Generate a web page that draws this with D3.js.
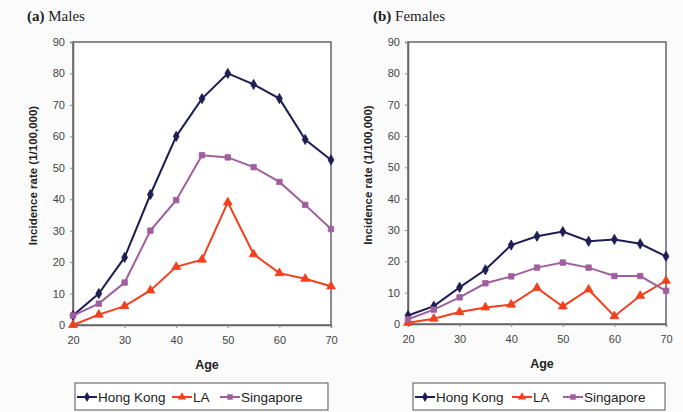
<!DOCTYPE html>
<html>
<head>
<meta charset="utf-8">
<script src="https://cdn.jsdelivr.net/npm/d3@7"></script>
<style>
  html, body { margin: 0; padding: 0; background: #fbfbfb; }
  svg { display: block; }
</style>
</head>
<body>
<svg id="chart" width="683" height="412"></svg>
<script>
// ---- Data ----
const ages = [20, 25, 30, 35, 40, 45, 50, 55, 60, 65, 70];
const xTicks = [20, 30, 40, 50, 60, 70];
const yTicks = [0, 10, 20, 30, 40, 50, 60, 70, 80, 90];
const seriesNames = ["Hong Kong", "LA", "Singapore"];

const malesHongKong = [3, 10, 21.5, 41.5, 60, 72, 80, 76.5, 72, 59, 52.5];
const malesLA       = [0, 3.3, 6, 11, 18.5, 20.8, 39, 22.5, 16.5, 14.7, 12.3];
const malesSingapore= [3, 6.8, 13.5, 30, 39.7, 54, 53.3, 50.2, 45.5, 38.2, 30.5];

const femalesHongKong = [2.7, 5.7, 11.7, 17.3, 25.2, 28, 29.5, 26.4, 27, 25.6, 21.6];
const femalesLA       = [0.4, 1.7, 3.8, 5.3, 6.2, 11.5, 5.6, 11, 2.5, 9, 13.8];
const femalesSingapore= [1.5, 4.6, 8.5, 13, 15.2, 18, 19.6, 18, 15.3, 15.3, 10.6];

const panelTitles = [["(a)", " Males"], ["(b)", " Females"]];
const yAxisTitle = "Incidence rate (1/100,000)";
const xAxisTitle = "Age";

// ---- Style ----
const colors = { "Hong Kong": "#1e1d55", "LA": "#f2401e", "Singapore": "#9f5f9e" };
const markers = { "Hong Kong": d3.symbolDiamond, "LA": d3.symbolTriangle, "Singapore": d3.symbolSquare };

const svg = d3.select("#chart");

const panels = [
  { title: panelTitles[0], x0: 73, x1: 331, y0: 42, y1: 325, titleX: 27,
    data: [malesHongKong, malesLA, malesSingapore], legend: [75, 328], offs: [2, 97, 145] },
  { title: panelTitles[1], x0: 408, x1: 666, y0: 42, y1: 324, titleX: 373,
    data: [femalesHongKong, femalesLA, femalesSingapore], legend: [413, 665], offs: [2, 99, 150] }
];

panels.forEach(p => {
  const g = svg.append("g");
  const x = d3.scaleLinear().domain([20, 70]).range([p.x0, p.x1]);
  const y = d3.scaleLinear().domain([0, 90]).range([p.y1, p.y0]);

  // title
  const t = g.append("text").attr("x", p.titleX).attr("y", 21)
    .style("font-family", "Liberation Serif, Times New Roman, serif")
    .style("font-size", "15px").attr("fill", "#222");
  t.append("tspan").style("font-weight", "bold").text(p.title[0]);
  t.append("tspan").text(p.title[1]);

  // plot box
  g.append("rect").attr("x", p.x0).attr("y", p.y0)
    .attr("width", p.x1 - p.x0).attr("height", p.y1 - p.y0)
    .attr("fill", "#fff").attr("stroke", "#666").attr("stroke-width", 1.5);

  // axes
  const yAxis = d3.axisLeft(y).tickValues(yTicks).tickSize(3).tickPadding(5);
  const ya = g.append("g").attr("transform", `translate(${p.x0},0)`).call(yAxis);
  const xAxis = d3.axisBottom(x).tickValues(xTicks).tickSize(3).tickPadding(8);
  const xa = g.append("g").attr("transform", `translate(0,${p.y1})`).call(xAxis);
  [ya, xa].forEach(a => {
    a.select(".domain").attr("stroke", "#666").attr("stroke-width", 1.5);
    a.selectAll(".tick line").attr("stroke", "#888");
    a.selectAll(".tick text").attr("fill", "#444")
      .style("font-family", "Liberation Sans, Arial, sans-serif").style("font-size", "11px");
  });

  // axis titles
  g.append("text")
    .attr("transform", `translate(${p.x0 - 36},${(p.y0 + p.y1) / 2 - 8}) rotate(-90)`)
    .attr("text-anchor", "middle")
    .style("font-family", "Liberation Sans, Arial, sans-serif")
    .style("font-size", "11.5px").style("font-weight", "bold").attr("fill", "#222")
    .text(yAxisTitle);
  g.append("text").attr("x", (p.x0 + p.x1) / 2 + 5).attr("y", p.y1 + 44)
    .attr("text-anchor", "middle")
    .style("font-family", "Liberation Sans, Arial, sans-serif")
    .style("font-size", "12.5px").style("font-weight", "bold").attr("fill", "#222")
    .text(xAxisTitle);

  // series
  const line = d3.line().x((d, i) => x(ages[i])).y(d => y(d));
  seriesNames.forEach((name, si) => {
    const vals = p.data[si];
    g.append("path").datum(vals).attr("d", line)
      .attr("fill", "none").attr("stroke", colors[name]).attr("stroke-width", 2);
    g.selectAll(null).data(vals).enter().append("path")
      .attr("transform", (d, i) => `translate(${x(ages[i])},${y(d)})`)
      .attr("d", d3.symbol().type(markers[name]).size(name === "LA" ? 34 : 30))
      .attr("fill", colors[name]).attr("stroke", colors[name]).attr("stroke-width", 0.8);
  });

  // legend
  const [lx0, lx1] = p.legend;
  const ly0 = 383, ly1 = 410, lyc = 397;
  g.append("rect").attr("x", lx0).attr("y", ly0).attr("width", lx1 - lx0).attr("height", ly1 - ly0)
    .attr("fill", "#fff").attr("stroke", "#555").attr("stroke-width", 1);
  seriesNames.forEach((name, si) => {
    const sx = lx0 + p.offs[si];
    const lw = 20;
    g.append("line").attr("x1", sx).attr("x2", sx + lw).attr("y1", lyc).attr("y2", lyc)
      .attr("stroke", colors[name]).attr("stroke-width", 2);
    g.append("path").attr("transform", `translate(${sx + lw / 2},${lyc})`)
      .attr("d", d3.symbol().type(markers[name]).size(30))
      .attr("fill", colors[name]);
    g.append("text").attr("x", sx + lw + 1).attr("y", lyc + 5)
      .style("font-family", "Liberation Sans, Arial, sans-serif")
      .style("font-size", "13.5px").attr("fill", "#222").text(name);
  });
});
</script>
</body>
</html>
